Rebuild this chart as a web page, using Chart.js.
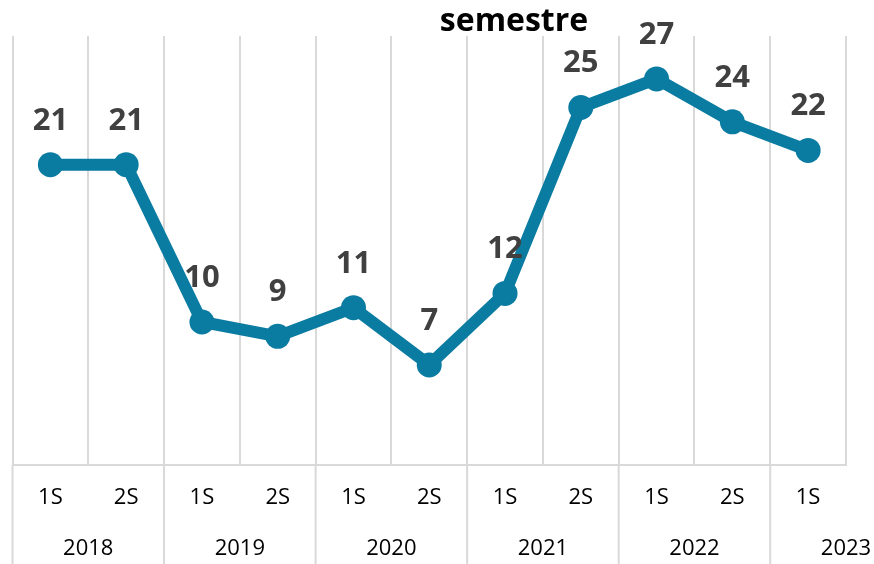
<!DOCTYPE html>
<html>
<head>
<meta charset="utf-8">
<script src="https://cdn.jsdelivr.net/npm/chart.js@4"></script>
<style>
  html, body { margin: 0; padding: 0; background: #fff; }
  #wrap { width: 874px; height: 564px; position: relative; }
</style>
</head>
<body>
<div id="wrap"><canvas id="chart"></canvas></div>
<script>
const semesters = ['1S', '2S', '1S', '2S', '1S', '2S', '1S', '2S', '1S', '2S', '1S'];
const years = ['2018', '2019', '2020', '2021', '2022', '2023'];
const values = [21, 21, 10, 9, 11, 7, 12, 25, 27, 24, 22];
const titleText = 'semestre';

const gridColor = '#d9d9d9';
const lineColor = '#0a7ba1';

// value labels above each point
const dataLabels = {
  id: 'dataLabels',
  afterDatasetsDraw(chart) {
    const ctx = chart.ctx;
    const meta = chart.getDatasetMeta(0);
    ctx.save();
    ctx.font = 'bold 31px "Open Sans"';
    ctx.fillStyle = '#404040';
    ctx.textAlign = 'center';
    ctx.textBaseline = 'middle';
    meta.data.forEach((pt, i) => {
      ctx.fillText(String(values[i]), pt.x, pt.y - 44);
    });
    ctx.restore();
  }
};

// year row + separators under the axis, and the title
const yearAxis = {
  id: 'yearAxis',
  afterDraw(chart) {
    const ctx = chart.ctx;
    const x = chart.scales.x;
    const area = chart.chartArea;
    const half = (x.getPixelForValue(1) - x.getPixelForValue(0)) / 2;
    ctx.save();
    ctx.strokeStyle = gridColor;
    ctx.lineWidth = 2;
    for (let i = 0; i < years.length; i++) {
      const left = x.getPixelForValue(i * 2) - half;
      ctx.beginPath();
      ctx.moveTo(left, area.bottom);
      ctx.lineTo(left, chart.height);
      ctx.stroke();
    }
    ctx.font = '22px "Open Sans"';
    ctx.fillStyle = '#000';
    ctx.textAlign = 'center';
    ctx.textBaseline = 'middle';
    years.forEach((y, i) => {
      const cx = (x.getPixelForValue(i * 2) + x.getPixelForValue(i * 2 + 1)) / 2;
      ctx.fillText(y, cx, 549);
    });
    ctx.font = 'bold 32px "Open Sans"';
    ctx.fillText(titleText, 514, 22);
    ctx.restore();
  }
};

new Chart(document.getElementById('chart'), {
  type: 'line',
  data: {
    labels: semesters,
    datasets: [{
      data: values,
      borderColor: lineColor,
      backgroundColor: lineColor,
      borderWidth: 12,
      pointRadius: 12.5,
      pointBorderWidth: 0,
      pointHoverRadius: 12.5,
      tension: 0
    }]
  },
  options: {
    responsive: true,
    maintainAspectRatio: false,
    animation: false,
    layout: { padding: { left: 12, right: 28, top: 36, bottom: 0 } },
    plugins: {
      legend: { display: false },
      tooltip: { enabled: false }
    },
    scales: {
      x: {
        offset: true,
        grid: {
          offset: true,
          color: gridColor,
          lineWidth: 2,
          drawTicks: false
        },
        border: { display: true, color: gridColor, width: 2 },
        ticks: {
          color: '#000',
          font: { family: 'Open Sans', size: 22 },
          padding: 20,
          maxRotation: 0,
          autoSkip: false
        },
        afterFit(scale) { scale.height = 99; }
      },
      y: {
        display: false,
        min: 0,
        max: 30
      }
    }
  },
  plugins: [dataLabels, yearAxis]
});
</script>
</body>
</html>
